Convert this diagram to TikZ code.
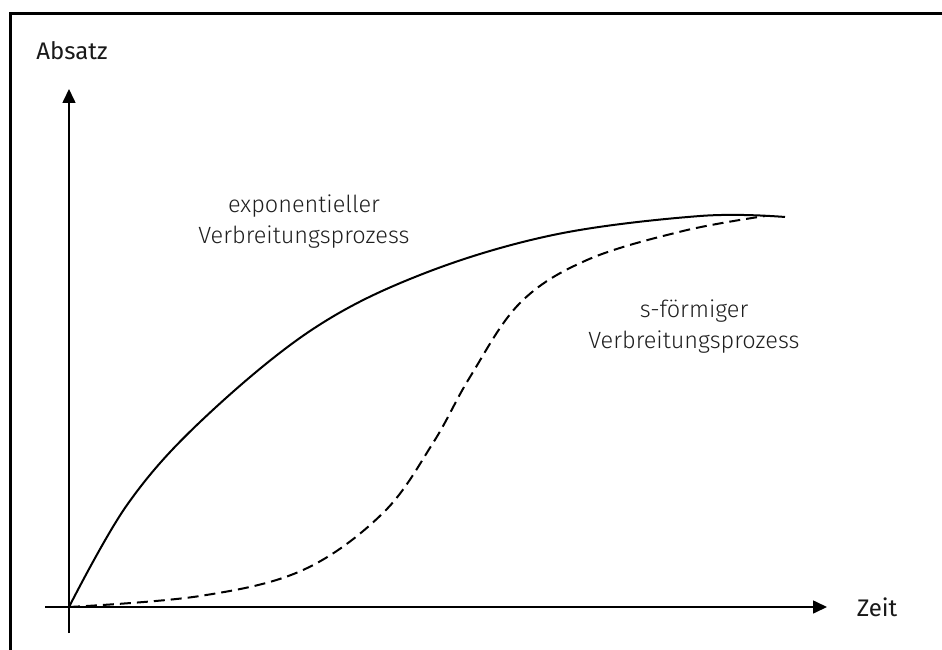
\documentclass[tikz,border=0pt]{standalone}
\usepackage{fontspec}
\setmainfont{Fira Sans}
\newfontfamily\lightfont{Fira Sans}[UprightFont=* Light]
\usetikzlibrary{arrows.meta}
\begin{document}
\begin{tikzpicture}[x=1pt,y=-1pt,
  frame/.style={line width=3pt},
  axis/.style={line width=1.6pt,-{Triangle[length=14pt,width=13pt]}},
  curve/.style={line width=2pt,line join=round},
  scurve/.style={curve,dash pattern=on 11pt off 6pt},
  axislabel/.style={font=\fontsize{24}{28}\selectfont,text=black!90,inner sep=0pt},
  curvelabel/.style={font=\lightfont\fontsize{23.5}{31}\selectfont,text=black!88,align=center,inner sep=0pt}]
\useasboundingbox (0,0) rectangle (942,650);
\clip (0,0) rectangle (942,650);
% outer frame (only top and left edges fall inside the page)
\draw[frame] (10.5,700) |- (1000,13.5);
% axes
\coordinate (O) at (69,607);
\coordinate (ybot) at (69,633);
\coordinate (ytip) at (69,89);
\coordinate (xleft) at (45,607);
\coordinate (xtip) at (827,607);
\draw[axis] (ybot) -- (ytip);
\draw[axis] (xleft) -- (xtip);
\node[axislabel] (absatz) at (72,51) {Absatz};
\node[axislabel] (zeit) at (877,607) {Zeit};
% exponential diffusion
\draw[curve] plot[smooth,tension=0.6] coordinates {(69,607) (127,505) (200,422) (310,331) (420,275) (553,235) (700,216) (785,217)};
% s-shaped diffusion
\draw[scurve] plot[smooth,tension=0.6] coordinates {(69,607) (200,596) (303,570) (383,513) (433,443) (470,377) (520,303) (587,260) (683,231) (765,216)};
\node[curvelabel] (explabel) at (304,222) {exponentieller\\Verbreitungsprozess};
\node[curvelabel] (slabel) at (694,327) {s-förmiger\\Verbreitungsprozess};
\end{tikzpicture}
\end{document}
